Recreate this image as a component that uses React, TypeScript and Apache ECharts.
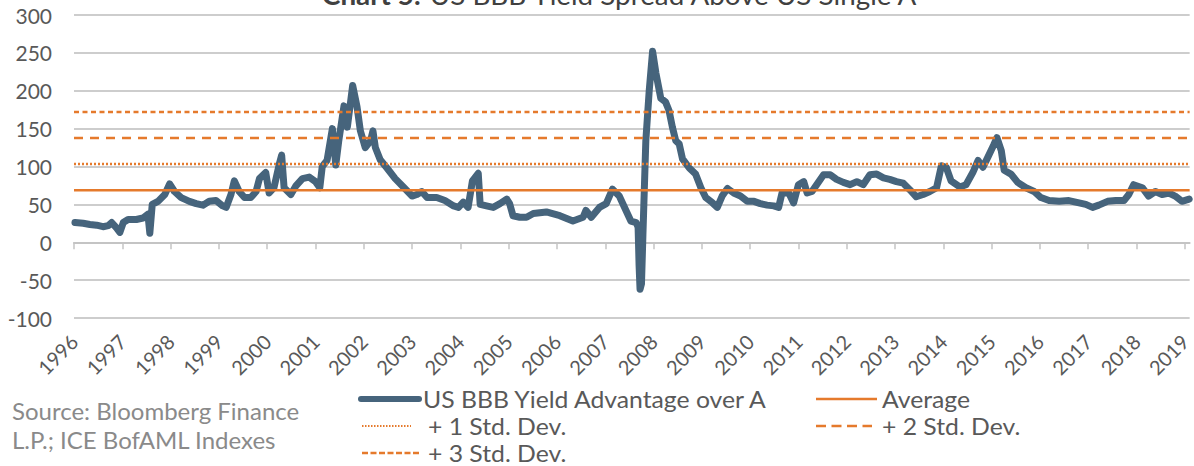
import React, { useEffect, useRef } from "react";
import * as echarts from "echarts";

const YEARS = [
  1996, 1997, 1998, 1999, 2000, 2001, 2002, 2003, 2004, 2005, 2006, 2007,
  2008, 2009, 2010, 2011, 2012, 2013, 2014, 2015, 2016, 2017, 2018, 2019,
];
const X_MIN = 1996;
const X_MAX = 2019.1;

const DATES = [
  1996.02, 1996.19, 1996.33, 1996.47, 1996.6, 1996.71, 1996.78, 1996.88, 1996.95, 1997.02,
  1997.12, 1997.29, 1997.43, 1997.53, 1997.57, 1997.62, 1997.74, 1997.88, 1997.98, 1998.08,
  1998.22, 1998.39, 1998.53, 1998.67, 1998.8, 1998.94, 1999.08, 1999.15, 1999.25, 1999.32,
  1999.42, 1999.53, 1999.66, 1999.77, 1999.84, 1999.97, 2000.04, 2000.14, 2000.25, 2000.3,
  2000.35, 2000.49, 2000.59, 2000.73, 2000.87, 2001.0, 2001.09, 2001.14, 2001.24, 2001.35,
  2001.42, 2001.48, 2001.59, 2001.66, 2001.77, 2001.86, 2001.93, 2002.03, 2002.14, 2002.19,
  2002.24, 2002.34, 2002.48, 2002.65, 2002.82, 2003.0, 2003.1, 2003.2, 2003.31, 2003.51,
  2003.68, 2003.86, 2003.96, 2004.06, 2004.16, 2004.25, 2004.37, 2004.41, 2004.54, 2004.68,
  2004.82, 2004.96, 2005.02, 2005.09, 2005.23, 2005.37, 2005.51, 2005.78, 2006.06, 2006.33,
  2006.54, 2006.6, 2006.71, 2006.88, 2007.02, 2007.15, 2007.29, 2007.4, 2007.53, 2007.64,
  2007.68, 2007.7, 2007.72, 2007.75, 2007.78, 2007.84, 2007.91, 2007.98, 2008.05, 2008.12,
  2008.15, 2008.25, 2008.32, 2008.39, 2008.46, 2008.53, 2008.6, 2008.74, 2008.87, 2008.98,
  2009.08, 2009.22, 2009.32, 2009.42, 2009.53, 2009.66, 2009.8, 2009.94, 2010.08, 2010.21,
  2010.35, 2010.49, 2010.59, 2010.66, 2010.8, 2010.9, 2011.0, 2011.11, 2011.18, 2011.28,
  2011.42, 2011.52, 2011.66, 2011.79, 2011.93, 2012.07, 2012.21, 2012.34, 2012.48, 2012.62,
  2012.76, 2012.89, 2013.03, 2013.17, 2013.31, 2013.44, 2013.58, 2013.72, 2013.86, 2013.96,
  2014.06, 2014.16, 2014.34, 2014.47, 2014.61, 2014.72, 2014.82, 2014.92, 2015.04, 2015.11,
  2015.2, 2015.26, 2015.4, 2015.54, 2015.71, 2015.88, 2016.02, 2016.19, 2016.4, 2016.6,
  2016.81, 2016.95, 2017.09, 2017.22, 2017.4, 2017.57, 2017.74, 2017.84, 2017.94, 2018.12,
  2018.25, 2018.39, 2018.53, 2018.67, 2018.8, 2018.94, 2019.09,
];

const SPREAD = [
  26, 25, 23.5, 22.5, 20.5, 22, 26, 19, 13, 26,
  30, 30, 32, 37, 12, 50, 54, 63, 77, 67,
  59, 54, 51, 49, 54, 55, 48, 46, 63, 81,
  67, 59, 59, 67, 84, 92, 65, 72, 103, 115,
  72, 63, 74, 84, 86, 80, 72, 100, 108, 150,
  102, 133, 180, 152, 207, 179, 147, 125, 134, 147,
  125, 109, 98, 84, 73, 61, 63, 67, 59, 59,
  55, 48, 46, 53, 46, 81, 91, 50, 48, 46,
  51, 57, 51, 35, 33, 33, 38, 40, 35, 28,
  33, 42, 33, 46, 51, 70, 61, 46, 28, 26,
  20, -30, -62, -55, 10, 134, 200, 252, 223, 200,
  190, 185, 174, 152, 134, 130, 110, 98, 90, 72,
  59, 52, 46, 61, 71, 65, 61, 54, 54, 51,
  49, 48, 46, 65, 65, 52, 76, 80, 65, 67,
  80, 89, 89, 83, 79, 76, 80, 76, 89, 90,
  85, 83, 80, 78, 69, 60, 63, 67, 72, 101,
  99, 81, 73, 76, 92, 108, 99, 112, 128, 138,
  121, 95, 90, 79, 72, 67, 59, 55, 54, 55,
  52, 50, 46, 49, 54, 55, 55, 63, 76, 72,
  61, 67, 63, 65, 61, 54, 57,
];

const AVERAGE = 68.8;
const PLUS_1_SD = 103.2;
const PLUS_2_SD = 137.6;
const PLUS_3_SD = 172;

const NAME_MAIN = "US BBB Yield Advantage over A";
const NAME_AVG = "Average";
const NAME_SD1 = "+ 1 Std. Dev.";
const NAME_SD2 = "+ 2 Std. Dev.";
const NAME_SD3 = "+ 3 Std. Dev.";

const FONT = 'Lato, "Open Sans", sans-serif';
const BLUE = "#46647c";
const ORANGE = "#e57a2c";
const TEXT = "#595959";

const DASH_SD1: number[] = [2, 2];
const DASH_SD2: number[] = [9, 7];
const DASH_SD3: number[] = [5, 3.5];

function levelLine(name: string, v: number, type: any, width: number) {
  return {
    name,
    type: "line",
    xAxisIndex: 0,
    showSymbol: false,
    symbol: "none",
    silent: true,
    data: [
      [X_MIN, v],
      [X_MAX, v],
    ],
    lineStyle: { color: ORANGE, width, type },
    itemStyle: { color: ORANGE },
    z: 3,
  };
}

function legendItem(
  x1: number,
  x2: number,
  y: number,
  textX: number,
  label: string,
  color: string,
  width: number,
  dash: number[] | null
) {
  return [
    {
      type: "line",
      silent: true,
      shape: { x1, y1: y, x2, y2: y },
      style: {
        stroke: color,
        lineWidth: width,
        lineDash: dash || undefined,
        lineCap: width > 4 ? "round" : "butt",
      },
    },
    {
      type: "text",
      silent: true,
      x: textX,
      y,
      scaleX: 1.1,
      style: {
        text: label,
        fill: TEXT,
        font: `22.5px ${FONT}`,
        verticalAlign: "middle",
        align: "left",
      },
    },
  ];
}

export default function App() {
  const ref = useRef<HTMLDivElement>(null);
  useEffect(() => {
    if (!ref.current) return;
    const chart = echarts.init(ref.current, null, { renderer: "svg" });
    const mainData = DATES.map((d, i) => [d, SPREAD[i]]);
    chart.setOption({
      animation: false,
      backgroundColor: "#ffffff",
      textStyle: { fontFamily: FONT },
      grid: { left: 74, right: 0, top: 15, bottom: 148, containLabel: false },
      xAxis: [
        {
          type: "value",
          min: X_MIN,
          max: X_MAX,
          interval: 1,
          position: "bottom",
          axisLine: { show: false, onZero: false },
          axisTick: { show: false },
          splitLine: { show: false },
          axisLabel: {
            rotate: 45,
            margin: 20,
            color: TEXT,
            fontFamily: FONT,
            fontSize: 20,
            customValues: YEARS,
            formatter: (v: number) => String(Math.round(v)),
          },
        },
        {
          type: "value",
          min: X_MIN,
          max: X_MAX,
          interval: 1,
          position: "bottom",
          axisLine: { show: true, onZero: true, lineStyle: { color: "#c4c4c4", width: 2 } },
          axisTick: {
            show: true,
            length: 7,
            customValues: YEARS,
            lineStyle: { color: "#c4c4c4", width: 1.5 },
          },
          axisLabel: { show: false },
          splitLine: { show: false },
        },
      ],
      yAxis: {
        type: "value",
        min: -100,
        max: 300,
        interval: 50,
        axisLine: { show: false },
        axisTick: { show: false },
        axisLabel: { color: TEXT, fontFamily: FONT, fontSize: 21, margin: 22 },
        splitLine: { lineStyle: { color: "#cdcdcd", width: 2 } },
      },
      graphic: [
        {
          type: "text",
          x: 620,
          y: -18,
          scaleX: 1.07,
          style: {
            text: "{b|Chart 5:} US BBB Yield Spread Above US Single A",
            fill: "#404040",
            font: `26px ${FONT}`,
            align: "center",
            verticalAlign: "top",
            rich: {
              b: { fontWeight: "bold", fontSize: 26, fontFamily: FONT, fill: "#404040" },
            },
          },
        },
        {
          type: "text",
          left: 12,
          top: 396,
          style: {
            text: "Source: Bloomberg Finance\nL.P.; ICE BofAML Indexes",
            fill: "#8a8a8a",
            font: `24px ${FONT}`,
            lineHeight: 29,
          },
        },
        ...legendItem(361, 419, 399, 423, NAME_MAIN, BLUE, 6, null),
        ...legendItem(362, 411, 426, 428, NAME_SD1, ORANGE, 2, [1.5, 1.5]),
        ...legendItem(362, 419, 453, 428, NAME_SD3, ORANGE, 2.5, [6, 2.5]),
        ...legendItem(816, 877, 399, 882, NAME_AVG, ORANGE, 2.5, null),
        ...legendItem(816, 872, 426, 882, NAME_SD2, ORANGE, 2.5, [10, 5.5]),
      ],
      series: [
        {
          name: NAME_MAIN,
          type: "line",
          xAxisIndex: 0,
          showSymbol: false,
          symbol: "none",
          data: mainData,
          lineStyle: { color: BLUE, width: 7, cap: "round", join: "round" },
          itemStyle: { color: BLUE },
          z: 2,
        },
        levelLine(NAME_AVG, AVERAGE, "solid", 2.5),
        levelLine(NAME_SD1, PLUS_1_SD, DASH_SD1, 2.5),
        levelLine(NAME_SD2, PLUS_2_SD, DASH_SD2, 2.5),
        levelLine(NAME_SD3, PLUS_3_SD, DASH_SD3, 2.5),
      ],
    });
    return () => chart.dispose();
  }, []);
  return (
    <div
      ref={ref}
      style={{ position: "fixed", left: 0, top: 0, width: 1194, height: 466 }}
    />
  );
}
